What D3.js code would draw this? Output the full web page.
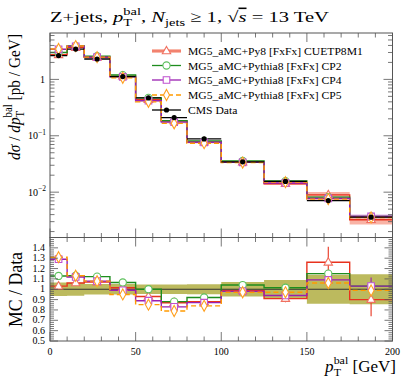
<!DOCTYPE html>
<html><head><meta charset="utf-8">
<script src="https://cdn.jsdelivr.net/npm/d3@7"></script>
<style>
html,body{margin:0;padding:0;background:#fff;}
svg text{font-family:"Liberation Serif","Times New Roman",serif;fill:#000;}
</style></head>
<body>
<svg id="c" width="407" height="380"></svg>
<script>
// ---------------- data ----------------
const binEdges = [0,10,20,35,50,65,80,100,125,150,175,200];
const dataValues = [2.65,3.45,2.30,1.12,0.47,0.210,0.0880,0.0345,0.0155,0.0071,0.0036];
const dataRelErr = [0.065,0.062,0.05,0.05,0.045,0.045,0.048,0.07,0.09,0.14,0.145];
const seriesNames = ["MG5_aMC+Py8 [FxFx] CUETP8M1","MG5_aMC+Pythia8 [FxFx] CP2","MG5_aMC+Pythia8 [FxFx] CP4","MG5_aMC+Pythia8 [FxFx] CP5"];
const cuetp8m1 = [2.73,3.66,2.46,1.137,0.437,0.1827,0.0774,0.0340,0.0141,0.00895,0.00324];
const cp2      = [2.99,3.90,2.58,1.193,0.470,0.1848,0.0810,0.0359,0.01573,0.00817,0.00371];
const cp4      = [3.42,3.86,2.48,1.109,0.418,0.1743,0.0766,0.0338,0.01457,0.00774,0.00371];
const cp5      = [3.47,3.90,2.48,1.064,0.400,0.1659,0.0739,0.0335,0.01504,0.00753,0.00356];
const cuetp8m1Err = [0.01,0.01,0.01,0.01,0.012,0.012,0.015,0.02,0.04,0.12,0.18];
const cp2Err      = [0.01,0.01,0.01,0.01,0.01,0.01,0.01,0.01,0.015,0.03,0.03];
const cp4Err      = [0.01,0.01,0.01,0.01,0.01,0.01,0.01,0.01,0.015,0.03,0.08];
const cp5Err      = [0.01,0.01,0.01,0.01,0.01,0.01,0.01,0.01,0.015,0.03,0.03];
const xTicks = [0,50,100,150,200];
const ratioTicks = [0.5,0.6,0.7,0.8,0.9,1.0,1.1,1.2,1.3,1.4];
const ratioTickLabels = ["0.5","0.6","0.7","0.8","0.9","1","1.1","1.2","1.3","1.4"];

const seriesValues = [cuetp8m1,cp2,cp4,cp5];
const seriesErrs = [cuetp8m1Err,cp2Err,cp4Err,cp5Err];
const styles = [
  {line:"#e8321e", band:"#f7a08e", marker:"tri", mstroke:"#f07060", dash:null, lw:1.4},
  {line:"#1e8c1e", band:"#9fd89f", marker:"circ", mstroke:"#5cc05c", dash:null, lw:1.4},
  {line:"#9a1fb0", band:"#dc9be6", marker:"sq", mstroke:"#c050d0", dash:null, lw:1.4},
  {line:"#ff9a00", band:"#ffd28a", marker:"dia", mstroke:"#ffa020", dash:"5,3", lw:1.4}
];

// ---------------- layout ----------------
const svg = d3.select("#c");
const X0=50, X1=392.5, MT=33, MB=237.5, RT=237.5, RB=341;
const x = d3.scaleLinear([0,200],[X0,X1]);
const y = d3.scaleLog([0.00157,6.65],[MB,MT]);
const yr = d3.scaleLinear([0.5,1.5],[RB,RT]);
const nb = dataValues.length;
const centers = d3.range(nb).map(i=>(binEdges[i]+binEdges[i+1])/2);

svg.append("clipPath").attr("id","cm").append("rect").attr("x",X0).attr("y",MT).attr("width",X1-X0).attr("height",MB-MT);
svg.append("clipPath").attr("id","cr").append("rect").attr("x",X0).attr("y",RT).attr("width",X1-X0).attr("height",RB-RT);

function stepPts(vals){ const p=binEdges.slice(0,nb).map((e,i)=>[e,vals[i]]); p.push([binEdges[nb],vals[nb-1]]); return p; }

function marker(g,type,cx,cy,stroke){
  const s=g.append(type==="circ"?"circle":"path").attr("fill","#fff").attr("stroke",stroke).attr("stroke-width",1.1);
  if(type==="circ") s.attr("cx",cx).attr("cy",cy).attr("r",3.6);
  else if(type==="tri") s.attr("d",`M${cx},${cy-4.6}L${cx+4.2},${cy+2.8}L${cx-4.2},${cy+2.8}Z`);
  else if(type==="sq") s.attr("d",`M${cx-3.3},${cy-3.3}h6.6v6.6h-6.6Z`);
  else if(type==="dia") s.attr("d",`M${cx},${cy-5.5}L${cx+3},${cy}L${cx},${cy+5.5}L${cx-3},${cy}Z`);
}

// ---------------- main panel ----------------
const gm = svg.append("g").attr("clip-path","url(#cm)");
seriesValues.forEach((vals,k)=>{
  const st=styles[k], errs=seriesErrs[k];
  const area=d3.area().curve(d3.curveStepAfter).x(d=>x(d[0])).y0(d=>y(d[1]*(1-d[2]))).y1(d=>y(d[1]*(1+d[2])));
  const pts=stepPts(vals).map((p,i)=>[p[0],p[1],errs[Math.min(i,nb-1)]]);
  gm.append("path").attr("d",area(pts)).attr("fill",st.band).attr("opacity",0.8);
});
seriesValues.forEach((vals,k)=>{
  const st=styles[k];
  const line=d3.line().curve(d3.curveStepAfter).x(d=>x(d[0])).y(d=>y(d[1]));
  gm.append("path").attr("d",line(stepPts(vals))).attr("fill","none").attr("stroke",st.line).attr("stroke-width",st.lw).attr("stroke-dasharray",st.dash);
});
dataValues.forEach((v,i)=>{
  gm.append("line").attr("x1",x(binEdges[i])).attr("x2",x(binEdges[i+1])).attr("y1",y(v)).attr("y2",y(v)).attr("stroke","#000").attr("stroke-width",1.3);
  gm.append("line").attr("x1",x(centers[i])).attr("x2",x(centers[i])).attr("y1",y(v*(1-dataRelErr[i]))).attr("y2",y(v*(1+dataRelErr[i]))).attr("stroke","#000").attr("stroke-width",1.3);
});
seriesValues.forEach((vals,k)=>{
  vals.forEach((v,i)=>marker(gm,styles[k].marker,x(centers[i]),y(v),styles[k].mstroke));
});
dataValues.forEach((v,i)=>gm.append("circle").attr("cx",x(centers[i])).attr("cy",y(v)).attr("r",2.6).attr("fill","#000"));

// ---------------- ratio panel ----------------
const gr = svg.append("g").attr("clip-path","url(#cr)");
const bandArea=d3.area().curve(d3.curveStepAfter).x(d=>x(d[0])).y0(d=>yr(1-d[1])).y1(d=>yr(1+d[1]));
const bandPts=binEdges.slice(0,nb).map((e,i)=>[e,dataRelErr[i]]); bandPts.push([200,dataRelErr[nb-1]]);
gr.append("path").attr("d",bandArea(bandPts)).attr("fill","#b5b24c").attr("opacity",0.9);
gr.append("line").attr("x1",X0).attr("x2",X1).attr("y1",yr(1)).attr("y2",yr(1)).attr("stroke","#333").attr("stroke-width",1);
seriesValues.forEach((vals,k)=>{
  const st=styles[k];
  const ratios=vals.map((v,i)=>v/dataValues[i]);
  const line=d3.line().curve(d3.curveStepAfter).x(d=>x(d[0])).y(d=>yr(d[1]));
  gr.append("path").attr("d",line(stepPts(ratios))).attr("fill","none").attr("stroke",st.line).attr("stroke-width",st.lw).attr("stroke-dasharray",st.dash);
});
seriesValues.forEach((vals,k)=>{
  const st=styles[k], errs=seriesErrs[k];
  vals.forEach((v,i)=>{
    const r=v/dataValues[i];
    if(errs[i]>0.025) gr.append("line").attr("x1",x(centers[i])).attr("x2",x(centers[i])).attr("y1",yr(r*(1-errs[i]))).attr("y2",yr(r*(1+errs[i]))).attr("stroke",st.line).attr("stroke-width",1.1);
  });
});
seriesValues.forEach((vals,k)=>{
  vals.forEach((v,i)=>marker(gr,styles[k].marker,x(centers[i]),yr(v/dataValues[i]),styles[k].mstroke));
});

// ---------------- frames & ticks ----------------
const axC="#555";
function frame(t,b){ svg.append("rect").attr("x",X0).attr("y",t).attr("width",X1-X0).attr("height",b-t).attr("fill","none").attr("stroke",axC).attr("stroke-width",1); }
frame(MT,MB); frame(RT,RB);
const tk=svg.append("g").attr("stroke",axC).attr("stroke-width",0.8);
function xTicksFor(t,b){
  d3.range(0,201,10).forEach(v=>{
    const L=(v%50===0)?9:4.5;
    tk.append("line").attr("x1",x(v)).attr("x2",x(v)).attr("y1",b).attr("y2",b-L);
    tk.append("line").attr("x1",x(v)).attr("x2",x(v)).attr("y1",t).attr("y2",t+L);
  });
}
xTicksFor(MT,MB); xTicksFor(RT,RB);
[-3,-2,-1,0].forEach(e=>{
  for(let m=1;m<10;m++){
    const v=m*Math.pow(10,e); if(v<y.domain()[0]||v>y.domain()[1]) continue;
    const L=m===1?9:4.5;
    tk.append("line").attr("x1",X0).attr("x2",X0+L).attr("y1",y(v)).attr("y2",y(v));
    tk.append("line").attr("x1",X1).attr("x2",X1-L).attr("y1",y(v)).attr("y2",y(v));
  }
});
d3.range(25,76).forEach(j=>{
  const v=j*0.02; if(v<0.5-1e-9||v>1.5+1e-9) return;
  const major=(j%5===0); const L=major?8:4;
  tk.append("line").attr("x1",X0).attr("x2",X0+L).attr("y1",yr(v)).attr("y2",yr(v));
  tk.append("line").attr("x1",X1).attr("x2",X1-L).attr("y1",yr(v)).attr("y2",yr(v));
});

// ---------------- labels ----------------
function ptbal(t,fs){
  t.append("tspan").attr("font-style","italic").text("p");
  const sub=t.append("tspan").attr("font-size",fs*0.7).attr("dy",fs*0.25).text("T");
  const w=sub.node().getComputedTextLength();
  t.append("tspan").attr("font-size",fs*0.7).attr("dx",-w).attr("dy",-fs*0.72).text("bal");
  return fs*0.47;
}
function stretch(t,base,target){
  t.attr("transform",base);
  const w=t.node().getBBox().width;
  t.attr("transform",base+` scale(${target/w},1)`);
}
// title
{
  const fs=15.5;
  const t=svg.append("text").attr("font-size",fs);
  t.append("tspan").text("Z+jets, ");
  const back=ptbal(t,fs);
  t.append("tspan").attr("dy",back).text(", ");
  t.append("tspan").attr("font-style","italic").text("N");
  t.append("tspan").attr("font-size",fs*0.7).attr("dy",fs*0.25).text("jets");
  t.append("tspan").attr("dy",-fs*0.25).text(" \u2265 1, \u221A");
  t.append("tspan").attr("font-style","italic").attr("text-decoration","overline").text("s");
  t.append("tspan").text(" = 13 TeV");
  stretch(t,"translate(50,22)",280);
}
xTicks.forEach(v=>svg.append("text").attr("x",x(v)).attr("y",355).attr("text-anchor","middle").attr("font-size",10).text(String(v)));
ratioTicks.forEach((v,i)=>svg.append("text").attr("x",45).attr("y",yr(v)+3).attr("text-anchor","end").attr("font-size",10).text(ratioTickLabels[i]));
svg.append("text").attr("x",45).attr("y",y(1)+3.5).attr("text-anchor","end").attr("font-size",10).text("1");
[-1,-2].forEach(e=>{
  const t=svg.append("text").attr("x",46).attr("y",y(Math.pow(10,e))+3.5).attr("text-anchor","end").attr("font-size",10);
  t.append("tspan").text("10");
  t.append("tspan").attr("font-size",7.5).attr("dy",-4.5).text("\u2212"+(-e));
});
// x axis label
{
  const fs=16;
  const t=svg.append("text").attr("text-anchor","end").attr("font-size",fs);
  const back=ptbal(t,fs);
  t.append("tspan").attr("dy",back).text(" [GeV]");
  stretch(t,"translate(396,372)",72);
}
// y axis label main
{
  const fs=16.5;
  const t=svg.append("text").attr("text-anchor","end").attr("font-size",fs);
  t.append("tspan").attr("font-style","italic").text("d\u03C3");
  t.append("tspan").text(" / ");
  t.append("tspan").attr("font-style","italic").text("d");
  const back=ptbal(t,fs);
  t.append("tspan").attr("dy",back).text(" [pb / GeV]");
  stretch(t,"translate(20,34) rotate(-90)",126);
}
{
  const t=svg.append("text").attr("text-anchor","middle").attr("font-size",18).text("MC / Data");
  stretch(t,"translate(22,289.5) rotate(-90)",75);
}

// ---------------- legend ----------------
const legY=[51,65.5,80,95,110];
const lg=svg.append("g");
let legScale=null;
seriesNames.forEach((n,k)=>{
  const st=styles[k], yy=legY[k];
  if(k===0) lg.append("line").attr("x1",152).attr("x2",181).attr("y1",yy).attr("y2",yy).attr("stroke",st.band).attr("stroke-width",3.5);
  lg.append("line").attr("x1",152).attr("x2",181).attr("y1",yy).attr("y2",yy).attr("stroke",k===0?"#f07a68":st.line).attr("stroke-width",k===0?1.6:1.3).attr("stroke-dasharray",st.dash);
  marker(lg,st.marker,166.5,yy,st.mstroke);
  const t=lg.append("text").attr("font-size",11).text(n);
  if(legScale===null){ legScale=175/t.node().getBBox().width; }
  t.attr("transform",`translate(188,${yy+4}) scale(${legScale},1)`);
});
{
  const yy=legY[4];
  lg.append("line").attr("x1",152).attr("x2",181).attr("y1",yy).attr("y2",yy).attr("stroke","#000").attr("stroke-width",1.3);
  lg.append("circle").attr("cx",166.5).attr("cy",yy).attr("r",2.6).attr("fill","#000");
  lg.append("text").attr("font-size",11).attr("transform",`translate(188,${yy+4}) scale(${legScale},1)`).text("CMS Data");
}
</script>
</body></html>
